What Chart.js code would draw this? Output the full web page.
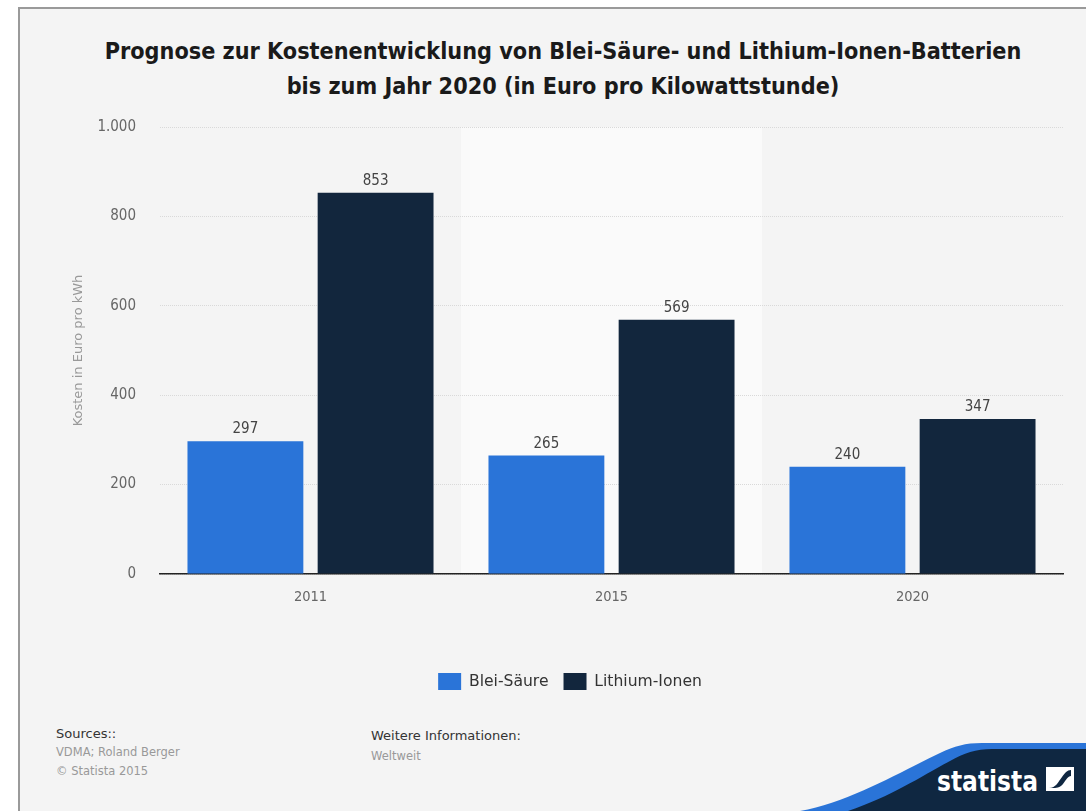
<!DOCTYPE html>
<html lang="de">
<head>
<meta charset="utf-8">
<title>Kostenentwicklung Batterien</title>
<script src="https://cdn.jsdelivr.net/npm/chart.js@4.4.1/dist/chart.umd.min.js"></script>
<style>
    html, body {
        margin: 0;
        padding: 0;
        width: 1086px;
        height: 811px;
        overflow: hidden;
        background: #ffffff;
    }
    .frame {
        position: absolute;
        left: 18px;
        top: 7px;
        width: 1068px;
        height: 804px;
        background: #f4f4f4;
        border-left: 2px solid #9a9a9a;
        border-top: 2px solid #9a9a9a;
    }
    .chart-title {
        position: absolute;
        left: 63px;
        width: 1000px;
        top: 33px;
        text-align: center;
        font-family: 'DejaVu Sans Condensed', 'DejaVu Sans', sans-serif;
        font-stretch: condensed;
        font-weight: bold;
        font-size: 23.2px;
        line-height: 35px;
        color: #1a1a1a;
        white-space: nowrap;
    }
    #chartWrap {
        position: absolute;
        left: 20px;
        top: 9px;
        width: 1066px;
        height: 700px;
    }
    .foot {
        position: absolute;
        font-family: 'DejaVu Sans', sans-serif;
        font-size: 11.5px;
        color: #999;
    }
    .foot .head {
        color: #333;
        font-size: 13px;
    }
    #logo {
        position: absolute;
        left: 800px;
        top: 740px;
    }
</style>
</head>
<body>
<div class="frame"></div>
<div class="chart-title" id="chartTitle"></div>
<div id="chartWrap"><canvas id="costChart"></canvas></div>

<div class="foot" style="left:56px; top:724px; line-height:19px;">
    <div class="head">Sources::</div>
    <div>VDMA; Roland Berger</div>
    <div>© Statista 2015</div>
</div>
<div class="foot" style="left:371px; top:726px; line-height:20px;">
    <div class="head">Weitere Informationen:</div>
    <div>Weltweit</div>
</div>

<svg id="logo" width="286" height="71" viewBox="0 0 286 71">
    <path d="M0,71 C50,62 100,32 140,13 C155,6 165,3 182,3 L286,3 L286,71 Z" fill="#2a74d8"/>
    <path d="M48,71 C92,56 122,36 150,21 C164,13 176,9 192,9 L286,9 L286,71 Z" fill="#0f2741"/>
    <text x="137" y="51" fill="#ffffff" font-family="DejaVu Sans, sans-serif"
          font-weight="bold" font-size="29" textLength="101" lengthAdjust="spacingAndGlyphs">statista</text>
    <rect x="246" y="27" width="28" height="24" fill="#ffffff"/>
    <path d="M249,48 C256,48 258,42 262,37 C265,33 267,30 271,30 L271,36 C268,36 266,40 263,44 C260,48 256,48 252,48 Z" fill="#0f2741"/>
</svg>

<script>
// Kosten pro kWh, Prognose bis 2020
const years = ['2011', '2015', '2020'];
const leadAcid = [297, 265, 240];
const lithiumIon = [853, 569, 347];
const seriesNames = ['Blei-Säure', 'Lithium-Ionen'];
const titleLines = [
    'Prognose zur Kostenentwicklung von Blei-Säure- und Lithium-Ionen-Batterien',
    'bis zum Jahr 2020 (in Euro pro Kilowattstunde)'
];
const yAxisTitle = 'Kosten in Euro pro kWh';

const narrowFont = "'DejaVu Sans Condensed', 'DejaVu Sans', sans-serif";

// Title goes in as two plain lines of text
const titleEl = document.getElementById('chartTitle');
titleLines.forEach(line => {
    const div = document.createElement('div');
    div.textContent = line;
    titleEl.appendChild(div);
});

/**
 * Shade the middle category band a little lighter
 */
const bandPlugin = {
    id: 'middleBand',
    beforeDraw(chart) {
        const { ctx, chartArea, scales } = chart;
        const x = scales.x;
        const w = (chartArea.right - chartArea.left) / years.length;
        const cx = x.getPixelForValue(1);
        ctx.save();
        ctx.fillStyle = '#fafafa';
        ctx.fillRect(cx - w / 2, chartArea.top, w, chartArea.bottom - chartArea.top);
        ctx.restore();
    }
};

/**
 * Write each value above its bar
 */
const valueLabelPlugin = {
    id: 'valueLabels',
    afterDatasetsDraw(chart) {
        const { ctx } = chart;
        ctx.save();
        ctx.font = 'normal condensed 15px ' + narrowFont;
        ctx.fillStyle = '#444';
        ctx.textAlign = 'center';
        ctx.textBaseline = 'alphabetic';
        chart.data.datasets.forEach((ds, i) => {
            const meta = chart.getDatasetMeta(i);
            meta.data.forEach((bar, j) => {
                ctx.fillText(String(ds.data[j]), bar.x, bar.y - 8);
            });
        });
        ctx.restore();
    }
};

new Chart(document.getElementById('costChart'), {
    type: 'bar',
    data: {
        labels: years,
        datasets: [
            {
                label: seriesNames[0],
                data: leadAcid,
                backgroundColor: '#2a74d8',
                categoryPercentage: 0.865,
                barPercentage: 0.89
            },
            {
                label: seriesNames[1],
                data: lithiumIon,
                backgroundColor: '#12263d',
                categoryPercentage: 0.865,
                barPercentage: 0.89
            }
        ]
    },
    options: {
        responsive: true,
        maintainAspectRatio: false,
        animation: false,
        layout: {
            padding: { left: 57, right: 23, top: 118, bottom: 9 }
        },
        plugins: {
            title: { display: false },
            legend: {
                position: 'bottom',
                labels: {
                    boxWidth: 23,
                    boxHeight: 17,
                    padding: 15,
                    color: '#333',
                    font: { family: "'DejaVu Sans', sans-serif", size: 15.6 }
                }
            },
            tooltip: { enabled: false }
        },
        scales: {
            x: {
                grid: { display: false, drawTicks: false },
                border: { display: true, color: '#222', width: 1.5 },
                ticks: {
                    color: '#666',
                    padding: 15,
                    font: { family: narrowFont, weight: 'normal condensed', size: 14.5 }
                },
                afterFit(scale) {
                    scale.height = 84;
                }
            },
            y: {
                min: 0,
                max: 1000,
                ticks: {
                    stepSize: 200,
                    color: '#666',
                    padding: 24,
                    font: { family: narrowFont, weight: 'normal condensed', size: 15 },
                    callback: value => value.toLocaleString('de-DE')
                },
                grid: {
                    color: '#d9d9d9',
                    drawTicks: false
                },
                border: { display: false, dash: [1, 1] },
                title: {
                    display: true,
                    text: yAxisTitle,
                    color: '#999',
                    padding: { top: -6, bottom: 0 },
                    font: { family: "'DejaVu Sans', sans-serif", size: 13 }
                },
                afterFit(scale) {
                    scale.width = 83;
                }
            }
        }
    },
    plugins: [bandPlugin, valueLabelPlugin]
});
</script>
</body>
</html>
